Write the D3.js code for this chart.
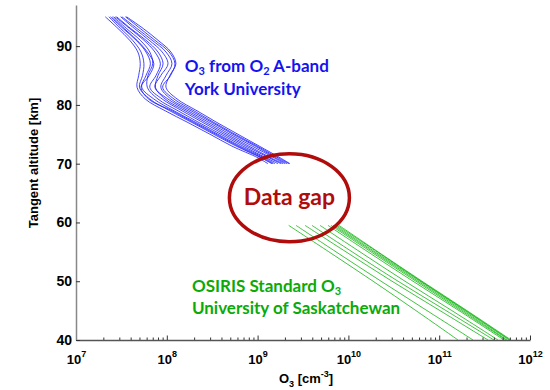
<!DOCTYPE html>
<html>
<head>
<script src="https://d3js.org/d3.v7.min.js"></script>
<style>
  body { margin: 0; background: #fff; }
</style>
</head>
<body>
<svg width="550" height="390" id="mainSvg"></svg>
<script>
// ---- data ----
const blueAltitudes = [95, 93, 91, 89, 87, 85, 83, 81, 79, 77, 75, 73, 71, 70];
const blueProfiles = [
  [2.1e7, 2.9e7, 3.9e7, 4.8e7, 5.1e7, 4.9e7, 4.7e7, 5.8e7, 9.6e7, 1.71e8, 3.0e8, 5.2e8, 1.01e9, 1.30e9],
  [2.3e7, 3.1e7, 4.2e7, 5.2e7, 5.6e7, 5.4e7, 5.0e7, 6.5e7, 1.08e8, 1.90e8, 3.3e8, 5.8e8, 1.09e9, 1.44e9],
  [2.4e7, 3.3e7, 4.6e7, 5.9e7, 6.6e7, 5.9e7, 5.3e7, 7.2e7, 1.20e8, 2.10e8, 3.66e8, 6.4e8, 1.18e9, 1.55e9],
  [2.5e7, 3.4e7, 4.7e7, 6.1e7, 7.2e7, 6.4e7, 5.2e7, 6.3e7, 1.14e8, 1.99e8, 3.48e8, 6.08e8, 1.12e9, 1.48e9],
  [2.6e7, 3.6e7, 5.1e7, 6.5e7, 7.0e7, 6.2e7, 6.1e7, 8.0e7, 1.33e8, 2.26e8, 3.95e8, 6.9e8, 1.24e9, 1.68e9],
  [2.7e7, 3.9e7, 5.6e7, 7.4e7, 8.5e7, 7.6e7, 6.5e7, 8.9e7, 1.47e8, 2.50e8, 4.27e8, 7.45e8, 1.34e9, 1.81e9],
  [2.8e7, 4.0e7, 5.9e7, 8.0e7, 9.1e7, 8.0e7, 7.5e7, 9.6e7, 1.59e8, 2.70e8, 4.6e8, 8.0e8, 1.40e9, 1.90e9],
  [3.1e7, 4.4e7, 6.4e7, 8.9e7, 1.03e8, 8.6e7, 7.4e7, 1.03e8, 1.71e8, 2.92e8, 4.97e8, 8.7e8, 1.52e9, 2.00e9],
  [3.2e7, 4.7e7, 6.9e7, 9.8e7, 1.14e8, 9.8e7, 8.6e7, 1.11e8, 1.85e8, 3.15e8, 5.36e8, 9.4e8, 1.59e9, 2.11e9],
  [3.5e7, 5.1e7, 7.4e7, 1.06e8, 1.23e8, 1.10e8, 9.0e7, 1.20e8, 1.99e8, 3.31e8, 5.64e8, 9.85e8, 1.68e9, 2.22e9],
  [3.6e7, 5.5e7, 8.0e7, 1.11e8, 1.26e8, 1.08e8, 9.8e7, 1.30e8, 2.15e8, 3.57e8, 6.08e8, 1.04e9, 1.77e9, 2.27e9]
];

const greenAltitudes = [59.5, 55, 50, 45, 40];
const greenProfiles = [
  [2.2e9, 6.1e9, 1.87e10, 5.55e10, 1.61e11],
  [2.65e9, 7.3e9, 2.29e10, 7.34e10, 2.36e11],
  [3.33e9, 9.4e9, 3.02e10, 1.02e11, 3.45e11],
  [3.97e9, 1.10e10, 3.52e10, 1.19e11, 4.01e11],
  [4.87e9, 1.34e10, 4.20e10, 1.38e11, 4.44e11],
  [5.96e9, 1.64e10, 5.15e10, 1.65e11, 5.17e11],
  [6.43e9, 1.77e10, 5.55e10, 1.74e11, 5.44e11],
  [6.77e9, 1.87e10, 5.84e10, 1.83e11, 5.58e11],
  [7.12e9, 1.96e10, 6.15e10, 1.92e11, 5.87e11],
  [7.49e9, 2.07e10, 6.30e10, 1.97e11, 6.02e11],
  [7.88e9, 2.12e10, 6.46e10, 2.02e11, 6.18e11]
];

const yTicks = [40, 50, 60, 70, 80, 90];
const xExponents = [7, 8, 9, 10, 11, 12];
const minorMultipliers = [2, 3, 4, 5, 6, 7, 8, 9];

// ---- layout ----
const mainSvg = d3.select('#mainSvg');
const margin = { top: 5, right: 20, bottom: 50, left: 76 };
const width = 550, height = 390;

const x = d3.scaleLog().domain([1e7, 1e12]).range([margin.left, width - margin.right]);
const y = d3.scaleLinear().domain([40, 97]).range([height - margin.bottom, margin.top]);

const g = mainSvg.append('g');

// profiles
const line = d3.line()
  .x(d => x(d[0]))
  .y(d => y(d[1]))
  .curve(d3.curveCatmullRom);

g.selectAll('path.blue')
  .data(blueProfiles).join('path')
  .attr('class', 'blue')
  .attr('d', p => line(p.map((v, i) => [v, blueAltitudes[i]])))
  .attr('fill', 'none')
  .attr('stroke', '#1414ff')
  .attr('stroke-width', 0.8);

g.selectAll('path.green')
  .data(greenProfiles).join('path')
  .attr('class', 'green')
  .attr('d', p => line(p.map((v, i) => [v, greenAltitudes[i]])))
  .attr('fill', 'none')
  .attr('stroke', '#10b410')
  .attr('stroke-width', 0.8);

// x axis: minor + major ticks, pointing inward
const minorTicks = [];
xExponents.slice(0, -1).forEach(e => minorMultipliers.forEach(m => minorTicks.push(m * Math.pow(10, e))));
const majorTicks = xExponents.map(e => Math.pow(10, e));

const xAxisMinor = g.append('g')
  .attr('transform', `translate(0,${y(40)})`)
  .call(d3.axisBottom(x).tickValues(minorTicks).tickSizeInner(-2.5).tickSizeOuter(0).tickFormat(''));
xAxisMinor.select('.domain').remove();

const xAxis = g.append('g')
  .attr('transform', `translate(0,${y(40)})`)
  .call(d3.axisBottom(x).tickValues(majorTicks).tickSizeInner(-4.5).tickSizeOuter(0).tickFormat(''));
xAxis.select('.domain').attr('stroke', '#555').attr('stroke-width', 1.3);
g.selectAll('.tick line').attr('stroke', '#333');

xAxis.selectAll('.tick').each(function (d) {
  const t = d3.select(this).append('text')
    .attr('x', 0).attr('y', 24)
    .attr('fill', '#000')
    .attr('text-anchor', 'middle')
    .style('font', 'bold 13px "Liberation Sans", Arial, sans-serif');
  t.append('tspan').text('10');
  t.append('tspan').attr('dy', -7).style('font-size', '9px').text(Math.round(Math.log10(d)));
});

// y axis
const yAxis = g.append('g')
  .attr('transform', `translate(${margin.left},0)`)
  .call(d3.axisLeft(y).tickValues(yTicks).tickSizeInner(-4).tickSizeOuter(0).tickPadding(4));
yAxis.select('.domain').attr('stroke', '#888').attr('stroke-width', 1.5);
yAxis.selectAll('.tick line').attr('stroke', '#333');
yAxis.selectAll('.tick text')
  .attr('fill', '#000')
  .style('font', 'bold 14px "Liberation Sans", Arial, sans-serif');

// axis titles
mainSvg.append('text')
  .attr('transform', 'translate(38,163) rotate(-90)')
  .attr('text-anchor', 'middle')
  .style('font', 'bold 13px "Liberation Sans", Arial, sans-serif')
  .text('Tangent altitude [km]');

const xTitle = mainSvg.append('text')
  .attr('x', 306).attr('y', 383)
  .attr('text-anchor', 'middle')
  .style('font', 'bold 13px "Liberation Sans", Arial, sans-serif');
xTitle.append('tspan').text('O');
xTitle.append('tspan').attr('dy', 4).style('font-size', '9px').text('3');
xTitle.append('tspan').attr('dy', -4).text(' [cm');
xTitle.append('tspan').attr('dy', -6).style('font-size', '9px').text('-3');
xTitle.append('tspan').attr('dy', 6).text(']');

// ---- annotations ----
const annoFont = '700 17px Lato, "Open Sans", sans-serif';

// parts: strings, or {sub: '..'} for a subscript
function subText(sel, parts) {
  let shift = 0;
  parts.forEach(p => {
    if (typeof p === 'object') {
      sel.append('tspan').attr('dy', 3 - shift).style('font-size', '11px').text(p.sub);
      shift = 3;
    } else {
      sel.append('tspan').attr('dy', -shift).text(p);
      shift = 0;
    }
  });
}

const blueText1 = mainSvg.append('text')
  .attr('x', x(1.58e8)).attr('y', y(85.55))
  .attr('fill', '#1414f0').style('font', annoFont);
subText(blueText1, ['O', { sub: '3' }, ' from O', { sub: '2' }, ' A-band']);

mainSvg.append('text')
  .attr('x', x(1.58e8)).attr('y', y(81.75))
  .attr('fill', '#1414f0').style('font', annoFont)
  .text('York University');

const greenText1 = mainSvg.append('text')
  .attr('x', x(1.89e8)).attr('y', y(48.2))
  .attr('fill', '#0aaa0a').style('font', annoFont);
subText(greenText1, ['OSIRIS Standard O', { sub: '3' }]);

mainSvg.append('text')
  .attr('x', x(1.89e8)).attr('y', y(44.4))
  .attr('fill', '#0aaa0a').style('font', annoFont)
  .text('University of Saskatchewan');

// data gap ellipse
const gapX = x(2.24e9), gapY = y(64.2);
mainSvg.append('ellipse')
  .attr('cx', gapX).attr('cy', gapY)
  .attr('rx', 60).attr('ry', 44)
  .attr('fill', 'none')
  .attr('stroke', '#b00c0c')
  .attr('stroke-width', 3.5);

mainSvg.append('text')
  .attr('x', gapX).attr('y', gapY + 7)
  .attr('text-anchor', 'middle')
  .attr('fill', '#b00c0c')
  .style('font', '700 23px Lato, "Open Sans", sans-serif')
  .text('Data gap');
</script>
</body>
</html>
